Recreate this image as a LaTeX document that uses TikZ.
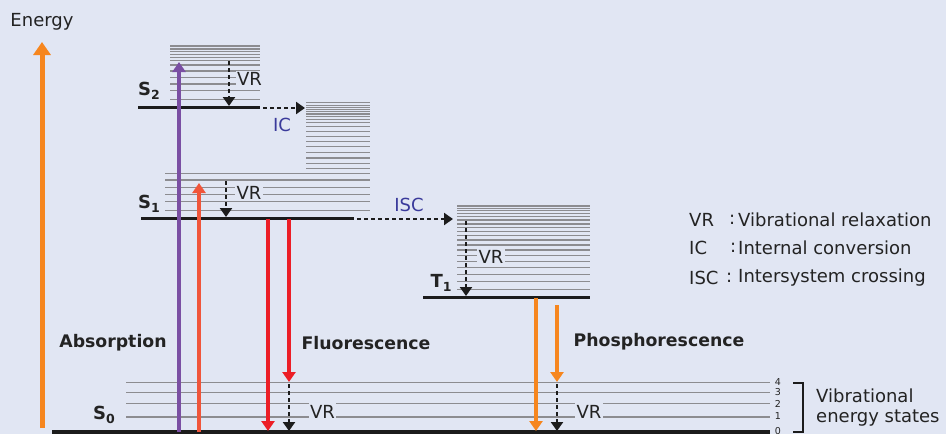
\documentclass[tikz,border=0pt]{standalone}
\usepackage{fontspec}
\setmainfont{DejaVu Sans}
\usetikzlibrary{arrows.meta}
\definecolor{bg}{RGB}{225,230,243}
\definecolor{vibgrey}{RGB}{140,140,144}
\definecolor{lvlblack}{RGB}{28,28,28}
\definecolor{orng}{RGB}{246,134,30}
\definecolor{purp}{RGB}{122,79,163}
\definecolor{redor}{RGB}{240,85,58}
\definecolor{fred}{RGB}{236,30,38}
\definecolor{icblue}{RGB}{58,58,155}
\definecolor{txt}{RGB}{35,35,35}
\tikzset{
  vib/.style={draw=vibgrey, line width=1.5pt},
  lvl/.style={draw=lvlblack, line width=3pt},
  vrarrow/.style={draw=lvlblack, line width=2.6pt, dash pattern=on 4pt off 3pt, -{Triangle[width=12pt,length=9pt]}},
  colarrow/.style={line width=3.4pt, -{Triangle[width=13pt,length=10pt]}},
  boldlbl/.style={font=\fontsize{17.3}{20}\selectfont\bfseries, text=txt},
  vrlbl/.style={fill=bg, inner sep=1.5pt, text=txt},
  statelbl/.style={font=\fontsize{18}{20}\selectfont\bfseries, text=txt, inner sep=0pt},
  smallnum/.style={font=\fontsize{9.5}{10}\selectfont, text=txt, inner sep=0pt},
  keylbl/.style={anchor=west, inner sep=0pt, text=txt},
}
\newcommand{\stlab}[2]{S\raisebox{-0.4ex}{\fontsize{12.5}{13}\selectfont #2}}
\newcommand{\tlab}[2]{T\raisebox{-0.4ex}{\fontsize{12.5}{13}\selectfont #2}}
\begin{document}
\begin{tikzpicture}[x=1pt,y=-1pt, font=\fontsize{18}{20}\selectfont]
\fill[bg] (0,0) rectangle (946,434);
\useasboundingbox (0,0) rectangle (946,434);

% ---------- vibrational sublevels ----------
% S0
\foreach \yy in {382.7,392.7,403.3,417} \draw[vib] (126,\yy) -- (770,\yy);
% S2
\foreach \yy in {46,49,51.7,54.3,57.3,60.7,65,71,77.7,84,90.7,99.3} \draw[vib] (170,\yy) -- (260,\yy);
% high S1 (IC)
\foreach \yy in {102.7,105.3,107.3,109.3,111.7,114,116.7,119.3,122.7,126.7,131.7,136.7,141.7,146.7,152.7,158,163.3,168.3} \draw[vib] (306,\yy) -- (370,\yy);
% S1
\foreach \yy in {173.3,180,187.7,194.3,201.7,210.3} \draw[vib] (165,\yy) -- (370,\yy);
% T1
\foreach \yy in {206,208.3,210.7,213.3,216.7,220,224,227.3,231.7,235.7,240,245,250,255.7,261.7,267.7,274.3,281.7,289.3} \draw[vib] (457,\yy) -- (590,\yy);

% ---------- electronic levels ----------
\draw[lvl, line width=4pt] (52,432) -- (770,432);
\draw[lvl] (138,107.5) -- (260,107.5);
\draw[lvl] (141,218.5) -- (354,218.5);
\draw[lvl] (423,297.5) -- (590,297.5);

% ---------- labels of states ----------
\node[statelbl] (s2) at (149,91) {\stlab{S}{2}};
\node[statelbl] (s1) at (149,204) {\stlab{S}{1}};
\node[statelbl] (s0) at (104,415) {\stlab{S}{0}};
\node[statelbl] (t1) at (441,283) {\tlab{T}{1}};

% ---------- VR labels ----------
\node[vrlbl] (vr2) at (249.5,79) {VR};
\node[vrlbl] (vr1) at (249,193) {VR};
\node[vrlbl] (vrt) at (491,256.5) {VR};
\node[vrlbl] (vr0a) at (322.5,411.5) {VR};
\node[vrlbl] (vr0b) at (589,411.5) {VR};

% ---------- coordinates ----------
\coordinate (eA) at (42,428);   \coordinate (eB) at (42,42);
\coordinate (aA) at (179,432);  \coordinate (aB) at (179,62);
\coordinate (bA) at (199,432);  \coordinate (bB) at (199,183);
\coordinate (fA) at (268,219);  \coordinate (fB) at (268,431);
\coordinate (gA) at (289,219);  \coordinate (gB) at (289,382);
\coordinate (gC) at (289,384);  \coordinate (gD) at (289,431);
\coordinate (pA) at (536,298);  \coordinate (pB) at (536,431);
\coordinate (qA) at (557,305);  \coordinate (qB) at (557,382);
\coordinate (qC) at (557,384);  \coordinate (qD) at (557,431);
\coordinate (v2A) at (229,61);  \coordinate (v2B) at (229,106);
\coordinate (v1A) at (226,181); \coordinate (v1B) at (226,217);
\coordinate (vtA) at (466,221); \coordinate (vtB) at (466,296);
\coordinate (icA) at (263,108); \coordinate (icB) at (305,108);
\coordinate (isA) at (357,219); \coordinate (isB) at (453,219);

% ---------- arrows ----------
\draw[orng, line width=5pt, -{Triangle[width=17pt,length=13pt]}] (eA) -- (eB);
\draw[purp, colarrow] (aA) -- (aB);
\draw[redor, colarrow] (bA) -- (bB);
\draw[fred, colarrow] (fA) -- (fB);
\draw[fred, colarrow] (gA) -- (gB);
\draw[vrarrow] (gC) -- (gD);
\draw[orng, colarrow] (pA) -- (pB);
\draw[orng, colarrow] (qA) -- (qB);
\draw[vrarrow] (qC) -- (qD);
\draw[vrarrow] (v2A) -- (v2B);
\draw[vrarrow] (v1A) -- (v1B);
\draw[vrarrow] (vtA) -- (vtB);
\draw[vrarrow] (icA) -- (icB);
\draw[vrarrow] (isA) -- (isB);

% ---------- texts ----------
\node[text=txt] (energy) at (42,22) {Energy};
\node[text=icblue] (ic) at (282,125) {IC};
\node[text=icblue] (isc) at (409,205) {ISC};
\node[boldlbl] (abs) at (113,343) {Absorption};
\node[boldlbl] (flu) at (366,343) {Fluorescence};
\node[boldlbl] (pho) at (659,342) {Phosphorescence};

% legend
\node[keylbl] (kvr) at (689,220) {VR};
\node[keylbl] (kic) at (689,248) {IC};
\node[keylbl] (kisc) at (689,278) {ISC};
\node[keylbl] (cvr) at (729,220) {:};
\node[keylbl] (cic) at (730,248) {:};
\node[keylbl] (cisc) at (726,278) {:};
\node[keylbl] (dvr) at (738,220) {Vibrational relaxation};
\node[keylbl] (dic) at (738,248) {Internal conversion};
\node[keylbl] (disc) at (738,278) {Intersystem crossing};

% vibrational numbers and bracket
\node[smallnum] (n4) at (778,382) {4};
\node[smallnum] (n3) at (778,392.5) {3};
\node[smallnum] (n2) at (778,403.5) {2};
\node[smallnum] (n1) at (778,416.5) {1};
\node[smallnum] (n0) at (778,431.5) {0};
\draw[lvlblack, line width=1.4pt] (793,383) -- (803,383) -- (803,432) -- (793,432);
\node[keylbl] (vib1) at (816,396) {Vibrational};
\node[keylbl] (vib2) at (816,418) {energy states};
\end{tikzpicture}
\end{document}
